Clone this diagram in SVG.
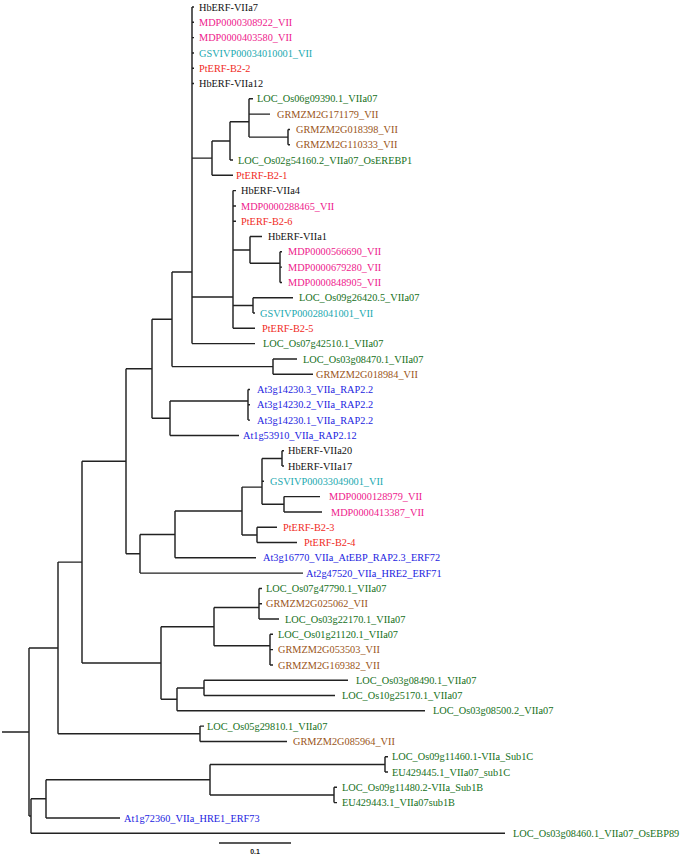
<svg xmlns="http://www.w3.org/2000/svg" width="683" height="859" viewBox="0 0 683 859">
<style>
text{font-family:"Liberation Serif","Times New Roman",serif;font-size:10.3px}
.hb{fill:#111}.md{fill:#ee1a8c}.gs{fill:#22a9b0}.pt{fill:#f02a24}.os{fill:#16701a}.zm{fill:#9a5520}.at{fill:#1c1ce0}
.br{fill:none;stroke:#222;stroke-width:1.45}
</style>
<rect width="683" height="859" fill="#fff"/>
<g id="branches" class="br">
<path d="M2 731.9H29M29 647.9V816M29 816H31M31 798.8V833.2M31 833.2H505"/>
<path d="M31 798.8H46M46 779.7V817.9M46 817.9H120M46 779.7H210M210 764.4V795M210 764.4H385M385 756.7V772M385 756.7H388M385 772H388M210 795H334M334 787.3V802.6M334 787.3H337M334 802.6H337"/>
<path d="M29 647.9H58M58 562.1V733.8M58 733.8H200M200 726.1V741.4M200 726.1H204M200 741.4H287"/>
<path d="M58 562.1H82M82 461.3V663M82 663H161M161 626.7V699.3M161 626.7H214M214 607.5V645.8M214 607.5H259M259 588.4V619M259 588.4H262M259 603.7H262M259 619H279M214 645.8H270M270 634.3V664.9M270 634.3H273M270 649.6H273M270 664.9H273"/>
<path d="M161 699.3H177M177 687.9V710.8M177 710.8H425M177 687.9H204M204 680.2V695.5M204 680.2H348M204 695.5H335"/>
<path d="M82 461.3H126M126 368.8V553.8M126 553.8H140M140 534.4V573.1M140 573.1H303M140 534.4H175M175 511V557.8M175 557.8H256M175 511H242M242 487.1V534.9M242 534.9H257M257 527.2V542.5M257 527.2H277M257 542.5H297M242 487.1H262M262 458.4V504.3M262 481.3H264M262 458.4H282M282 450.7V466M282 450.7H284M282 466H284M262 504.3H284M284 496.6V511.9M284 496.6H320M284 511.9H322"/>
<path d="M126 368.8H152M152 319.3V418.2M152 418.2H170M170 401V435.4M170 435.4H239M170 401H248M248 389.5V420.1M248 389.5H250M248 404.8H250M248 420.1H250"/>
<path d="M152 319.3H172M172 272V366.6M172 366.6H273M273 358.9V374.2M273 358.9H297M273 374.2H313M172 272H192M192 7V343.6M192 343.6H255"/>
<path d="M192 7H194M192 22.3H194M192 37.6H194M192 52.9H194M192 68.2H194M192 83.5H194"/>
<path d="M192 158.1H212M212 140.9V175.3M212 175.3H233M212 140.9H230M230 121.8V160M230 160H233M230 121.8H249M249 98.8V137.1M249 98.8H253M249 114.1H270M249 137.1H288M288 129.4V144.7M288 129.4H290M288 144.7H290"/>
<path d="M192 297H233M233 190.6V328.3M233 190.6H236M233 205.9H236M233 221.2H236M233 328.3H255M233 249.9H250M250 236.5V263.3M250 236.5H262M250 263.3H280M280 251.8V282.4M280 251.8H282M280 267.1H282M280 282.4H282M233 305.4H253M253 297.7V313M253 297.7H293M253 313H255"/>
</g>
<g id="scale-bar">
<path d="M219 843H291" fill="none" stroke="#222" stroke-width="1.3"/>
<text x="255" y="854" text-anchor="middle" style="font-family:'Liberation Sans',Arial,sans-serif;font-size:7px;font-weight:bold" fill="#222">0.1</text>
</g>
<g id="n1"><text class="hb" x="199" y="10.6">HbERF-VIIa7</text></g>
<g id="n2"><text class="md" x="199" y="25.9">MDP0000308922_VII</text></g>
<g id="n3"><text class="md" x="199" y="41.2">MDP0000403580_VII</text></g>
<g id="n4"><text class="gs" x="199" y="56.5">GSVIVP00034010001_VII</text></g>
<g id="n5"><text class="pt" x="199" y="71.8">PtERF-B2-2</text></g>
<g id="n6"><text class="hb" x="199" y="87.1">HbERF-VIIa12</text></g>
<g id="n7"><text class="os" x="257" y="102.4">LOC_Os06g09390.1_VIIa07</text></g>
<g id="n8"><text class="zm" x="277" y="117.7">GRMZM2G171179_VII</text></g>
<g id="n9"><text class="zm" x="296" y="133">GRMZM2G018398_VII</text></g>
<g id="n10"><text class="zm" x="296" y="148.3">GRMZM2G110333_VII</text></g>
<g id="n11"><text class="os" x="238" y="163.6">LOC_Os02g54160.2_VIIa07_OsEREBP1</text></g>
<g id="n12"><text class="pt" x="236" y="178.9">PtERF-B2-1</text></g>
<g id="n13"><text class="hb" x="241" y="194.2">HbERF-VIIa4</text></g>
<g id="n14"><text class="md" x="241" y="209.5">MDP0000288465_VII</text></g>
<g id="n15"><text class="pt" x="241" y="224.8">PtERF-B2-6</text></g>
<g id="n16"><text class="hb" x="268" y="240.1">HbERF-VIIa1</text></g>
<g id="n17"><text class="md" x="288" y="255.4">MDP0000566690_VII</text></g>
<g id="n18"><text class="md" x="288" y="270.7">MDP0000679280_VII</text></g>
<g id="n19"><text class="md" x="288" y="286">MDP0000848905_VII</text></g>
<g id="n20"><text class="os" x="299" y="301.3">LOC_Os09g26420.5_VIIa07</text></g>
<g id="n21"><text class="gs" x="260" y="316.6">GSVIVP00028041001_VII</text></g>
<g id="n22"><text class="pt" x="262" y="331.9">PtERF-B2-5</text></g>
<g id="n23"><text class="os" x="263" y="347.2">LOC_Os07g42510.1_VIIa07</text></g>
<g id="n24"><text class="os" x="303" y="362.5">LOC_Os03g08470.1_VIIa07</text></g>
<g id="n25"><text class="zm" x="316" y="377.8">GRMZM2G018984_VII</text></g>
<g id="n26"><text class="at" x="257" y="393.1">At3g14230.3_VIIa_RAP2.2</text></g>
<g id="n27"><text class="at" x="257" y="408.4">At3g14230.2_VIIa_RAP2.2</text></g>
<g id="n28"><text class="at" x="257" y="423.7">At3g14230.1_VIIa_RAP2.2</text></g>
<g id="n29"><text class="at" x="243" y="439">At1g53910_VIIa_RAP2.12</text></g>
<g id="n30"><text class="hb" x="288" y="454.3">HbERF-VIIa20</text></g>
<g id="n31"><text class="hb" x="288" y="469.6">HbERF-VIIa17</text></g>
<g id="n32"><text class="gs" x="270" y="484.9">GSVIVP00033049001_VII</text></g>
<g id="n33"><text class="md" x="329" y="500.2">MDP0000128979_VII</text></g>
<g id="n34"><text class="md" x="331" y="515.5">MDP0000413387_VII</text></g>
<g id="n35"><text class="pt" x="283" y="530.8">PtERF-B2-3</text></g>
<g id="n36"><text class="pt" x="304" y="546.1">PtERF-B2-4</text></g>
<g id="n37"><text class="at" x="263" y="561.4">At3g16770_VIIa_AtEBP_RAP2.3_ERF72</text></g>
<g id="n38"><text class="at" x="306" y="576.7">At2g47520_VIIa_HRE2_ERF71</text></g>
<g id="n39"><text class="os" x="266" y="592">LOC_Os07g47790.1_VIIa07</text></g>
<g id="n40"><text class="zm" x="266" y="607.3">GRMZM2G025062_VII</text></g>
<g id="n41"><text class="os" x="285" y="622.6">LOC_Os03g22170.1_VIIa07</text></g>
<g id="n42"><text class="os" x="278" y="637.9">LOC_Os01g21120.1_VIIa07</text></g>
<g id="n43"><text class="zm" x="278" y="653.2">GRMZM2G053503_VII</text></g>
<g id="n44"><text class="zm" x="278" y="668.5">GRMZM2G169382_VII</text></g>
<g id="n45"><text class="os" x="356" y="683.8">LOC_Os03g08490.1_VIIa07</text></g>
<g id="n46"><text class="os" x="342" y="699.1">LOC_Os10g25170.1_VIIa07</text></g>
<g id="n47"><text class="os" x="433" y="714.4">LOC_Os03g08500.2_VIIa07</text></g>
<g id="n48"><text class="os" x="207" y="729.7">LOC_Os05g29810.1_VIIa07</text></g>
<g id="n49"><text class="zm" x="293" y="745">GRMZM2G085964_VII</text></g>
<g id="n50"><text class="os" x="392" y="760.3">LOC_Os09g11460.1-VIIa_Sub1C</text></g>
<g id="n51"><text class="os" x="392" y="775.6">EU429445.1_VIIa07_sub1C</text></g>
<g id="n52"><text class="os" x="342" y="790.9">LOC_Os09g11480.2-VIIa_Sub1B</text></g>
<g id="n53"><text class="os" x="342" y="806.2">EU429443.1_VIIa07sub1B</text></g>
<g id="n54"><text class="at" x="124" y="821.5">At1g72360_VIIa_HRE1_ERF73</text></g>
<g id="n55"><text class="os" x="513" y="836.8">LOC_Os03g08460.1_VIIa07_OsEBP89</text></g>
</svg>
